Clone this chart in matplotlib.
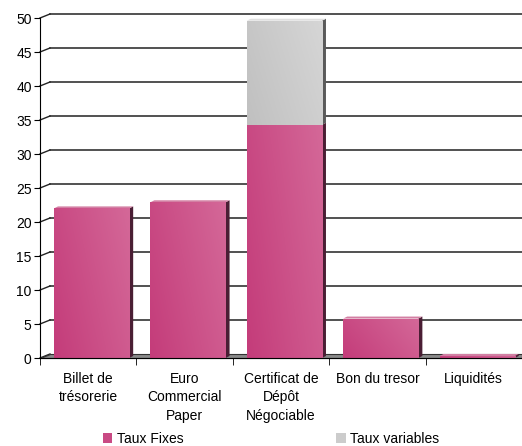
import numpy as np
import matplotlib.pyplot as plt
from matplotlib.patches import Polygon, Patch

plt.rcParams['font.family'] = ['Liberation Sans', 'DejaVu Sans']

categories = ['Billet de\ntrésorerie', 'Euro\nCommercial\nPaper',
              'Certificat de\nDépôt\nNégociable', 'Bon du tresor', 'Liquidités']
taux_fixes = [22.0, 22.9, 34.3, 5.8, 0.3]
taux_variables = [0.0, 0.0, 15.3, 0.0, 0.0]

fig = plt.figure(figsize=(5.22, 4.46), dpi=100)
W, H = 522, 446
ax = fig.add_axes([40 / W, 88 / H, 482 / W, 340 / H])
ax.set_xlim(-0.5, len(categories) - 0.5)
ax.set_ylim(0, 50)

# pixel -> data conversion for the pseudo 3D depth
pxx = 482 / len(categories)
pxy = 340 / 50.0
wall_dx, wall_dy = 10 / pxx, 4 / pxy
bar_dx, bar_dy = 4 / pxx, 2 / pxy

x0, x1 = -0.5, len(categories) - 0.5

# back wall grid lines and left wall diagonals
for v in range(0, 55, 5):
    if v > 0:
        ax.plot([x0 + wall_dx, x1], [v + wall_dy, v + wall_dy], color='#222222',
                lw=1.1, clip_on=False, zorder=1)
    ax.plot([x0, x0 + wall_dx], [v, v + wall_dy], color='#222222', lw=1.0,
            clip_on=False, zorder=1)

# floor
floor = Polygon([[x0, 0], [x1, 0], [x1, wall_dy], [x0 + wall_dx, wall_dy]],
                closed=True, facecolor='#8a8a8a', edgecolor='#333333', lw=0.8,
                zorder=1.5, clip_on=False)
ax.add_patch(floor)

width = 0.78
shift = 0.035
xs = np.arange(len(categories))


def rgb(c):
    return tuple(np.array(c) / 255.0)


def grad_img(c1, c2):
    g = np.linspace(0, 1, 64)
    gx, gy = np.meshgrid(g, g)
    t = (gx * 0.7 + gy * 0.3)
    c1, c2 = np.array(rgb(c1)), np.array(rgb(c2))
    return c1[None, None, :] * (1 - t[..., None]) + c2[None, None, :] * t[..., None]


def draw_bar(x, bottom, h, c1, c2, side, top):
    if h <= 0:
        return
    l, r = x - width / 2, x + width / 2
    b, t = bottom, bottom + h
    ax.add_patch(Polygon([[r, b], [r + bar_dx, b + bar_dy], [r + bar_dx, t + bar_dy], [r, t]],
                         closed=True, facecolor=side, edgecolor='none', zorder=3))
    ax.add_patch(Polygon([[l, t], [r, t], [r + bar_dx, t + bar_dy], [l + bar_dx, t + bar_dy]],
                         closed=True, facecolor=top, edgecolor='none', zorder=3))
    rect = ax.bar(x, h, width, bottom=b, color=rgb(c1), zorder=3)[0]
    im = ax.imshow(grad_img(c1, c2), extent=[l, r, b, t], origin='lower',
                   aspect='auto', zorder=3.5, interpolation='bilinear')
    im.set_clip_path(rect)


for i, x in enumerate(xs):
    draw_bar(x + shift, 0, taux_fixes[i], (196, 60, 122), (212, 104, 152),
             '#4a1e34', '#d37fa3')
    draw_bar(x + shift, taux_fixes[i], taux_variables[i], (192, 192, 192),
             (214, 214, 214), '#5a5a5a', '#e0e0e0')

ax.set_xlim(x0, x1)
ax.set_ylim(0, 50)
ax.set_aspect('auto')

ax.spines['top'].set_visible(False)
ax.spines['right'].set_visible(False)
ax.spines['left'].set_zorder(5)
ax.spines['bottom'].set_zorder(5)
ax.set_yticks(range(0, 55, 5))
ax.tick_params(axis='y', length=4, labelsize=10, pad=2)
ax.set_xticks(xs)
ax.set_xticklabels(categories, linespacing=1.4)
ax.tick_params(axis='x', length=0, labelsize=10, pad=10)
ax.set_xticks(np.arange(x0, x1 + 0.01, 1), minor=True)
ax.tick_params(axis='x', which='minor', length=5)

handles = [Patch(facecolor='#c94a84', edgecolor='none'),
           Patch(facecolor='#cccccc', edgecolor='none')]
fig.legend(handles, ['Taux Fixes', 'Taux variables'], loc='center',
           bbox_to_anchor=(0.519, 0.016), ncol=2, frameon=False, fontsize=10,
           handlelength=0.7, handleheight=0.7, handletextpad=0.3,
           columnspacing=11.0)

fig.savefig('out.png', dpi=100)
